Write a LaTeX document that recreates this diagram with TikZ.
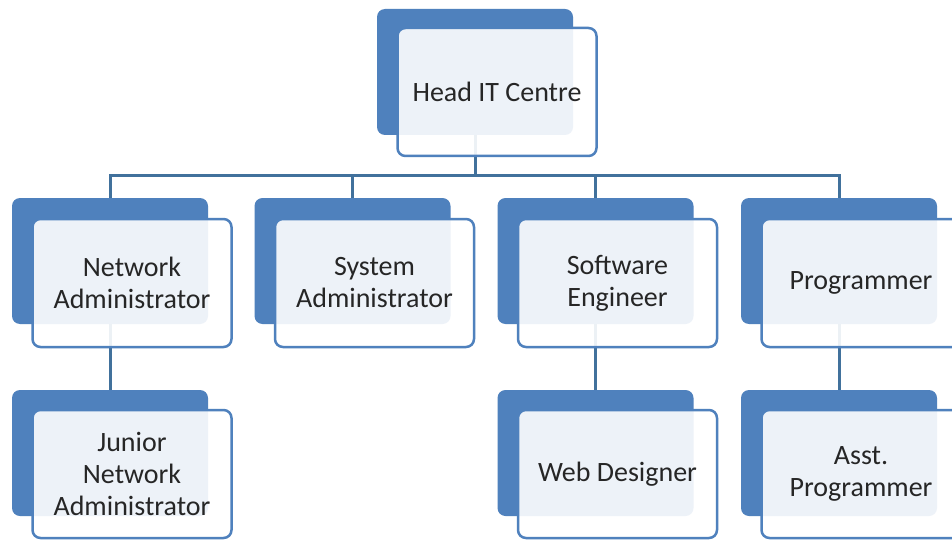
\documentclass[tikz,border=0pt]{standalone}
\usepackage{fontspec}
\setmainfont{Carlito}
\usetikzlibrary{backgrounds}
\definecolor{boxblue}{HTML}{4F81BD}
\definecolor{lineblue}{HTML}{41719C}

\begin{document}
\begin{tikzpicture}[x=1pt,y=-1pt,
    backbox/.style ={rectangle, rounded corners=8pt, fill=boxblue, minimum width=196pt, minimum height=126pt, inner sep=0pt},
    frontbox/.style ={rectangle, rounded corners=8pt, draw=boxblue, line width=2.5pt, fill=white, fill opacity=0.9, text opacity=1, text=black!85, minimum width=199pt, minimum height=128pt, inner sep=0pt, align=center, font=\fontsize{28}{32}\selectfont},
    link/.style ={draw=lineblue, line width=3pt}]
   \useasboundingbox (0,0) rectangle (952,540);
   \clip (0,0) rectangle (952,540);

   % top level
   \node[backbox] (headback) at (475,72) {};
   \node[frontbox] (head) at (497,92) {Head IT Centre};

   % second level
   \node[backbox] (netadmback) at (110,261) {};
   \node[frontbox] (netadm) at (132,283) {Network\\Administrator};
   \node[backbox] (sysadmback) at (352.5,261) {};
   \node[frontbox] (sysadm) at (374.5,283) {System\\Administrator};
   \node[backbox] (softengback) at (595.5,261) {};
   \node[frontbox] (softeng) at (617.5,283) {Software\\Engineer};
   \node[backbox] (progback) at (839,261) {};
   \node[frontbox] (prog) at (861,283) {Programmer};

   % third level
   \node[backbox] (junnetback) at (110,453) {};
   \node[frontbox] (junnet) at (132,474) {Junior\\Network\\Administrator};
   \node[backbox] (webdesback) at (595.5,453) {};
   \node[frontbox] (webdes) at (617.5,474) {Web Designer};
   \node[backbox] (asstprogback) at (839,453) {};
   \node[frontbox] (asstprog) at (861,474) {Asst.\\Programmer};

   \coordinate (bus) at (0,176);

   \begin{pgfonlayer}{background}
   \fill[white] (0,0) rectangle (952,540);
   \draw[link] (headback.south) |- (bus -| netadmback.north) -- (netadmback.north);
   \draw[link] (headback.south) |- (bus -| sysadmback.north) -- (sysadmback.north);
   \draw[link] (headback.south) |- (bus -| softengback.north) -- (softengback.north);
   \draw[link] (headback.south) |- (bus -| progback.north) -- (progback.north);
   \draw[link] (netadmback.south) -- (junnetback.north);
   \draw[link] (softengback.south) -- (webdesback.north);
   \draw[link] (progback.south) -- (asstprogback.north);
   \end{pgfonlayer}
 \end{tikzpicture}
\end{document}
